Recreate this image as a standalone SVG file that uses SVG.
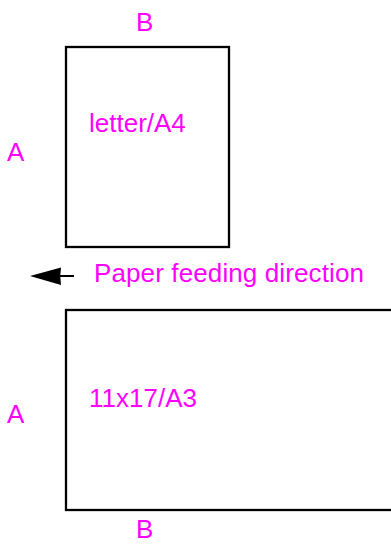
<svg xmlns="http://www.w3.org/2000/svg" width="391" height="544" viewBox="0 0 391 544">
<style>
.t{font-family:"Liberation Sans",Arial,sans-serif;font-size:26px;fill:#FF00FF}
.p{fill:#fff;stroke:#000;stroke-width:2.3}
</style>
<rect width="391" height="544" fill="#fff"/>
<g id="letter">
<rect class="p" x="66" y="47" width="163" height="200"/>
<text class="t" x="89" y="132">letter/A4</text>
<text class="t" x="136" y="31">B</text>
<text class="t" x="7" y="161">A</text>
</g>
<g id="tabloid">
<rect class="p" x="66" y="310" width="340" height="200"/>
<text class="t" x="89" y="407">11x17/A3</text>
<text class="t" x="136" y="538">B</text>
<text class="t" x="7" y="423">A</text>
</g>
<g id="direction">
<text class="t" x="94" y="282" textLength="270">Paper feeding direction</text>
</g>
<g id="connectors">
<line x1="58" y1="276" x2="74" y2="276" stroke="#000" stroke-width="2"/>
<path d="M30,276 L61,267.5 Q59.5,276 61,285 Z" fill="#000"/>
</g>
</svg>
